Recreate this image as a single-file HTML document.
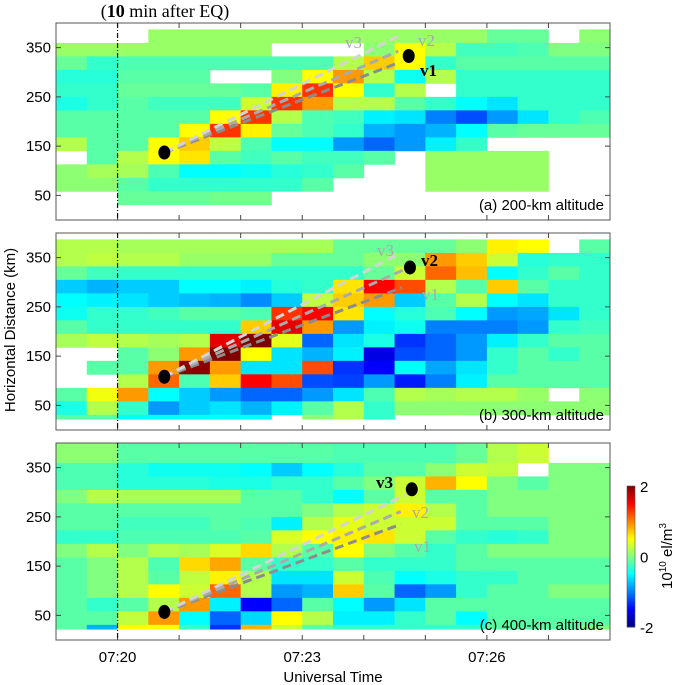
<!DOCTYPE html>
<html><head><meta charset="utf-8"><style>
body{margin:0;background:#fff;}
svg{display:block;font-family:"Liberation Sans",Arial,sans-serif;}
</style></head><body>
<svg id="chart" width="685" height="685" viewBox="0 0 685 685">
<text x="165" y="17" text-anchor="middle" font-family="Liberation Serif,serif" font-size="18">(<tspan font-weight="bold">10</tspan> min after EQ)</text>
<text transform="translate(15,330) rotate(-90)" text-anchor="middle" font-size="15">Horizontal Distance (km)</text>
<text x="333" y="682" text-anchor="middle" font-size="15">Universal Time</text>
<g id="cbar"></g>
</svg>
<script>
const N=null;
const panelLabels=["(a) 200-km altitude","(b) 300-km altitude","(c) 400-km altitude"];
const timeTicks=[1,2,3,4,5,6,7,8];
const timeTickLabels={1:"07:20",4:"07:23",7:"07:26"};
const distTicks=[50,150,250,350];
const valuesA=[
[N,N,N,.1,.1,.1,.1,.1,.1,.1,.1,.1,.1,.1,-.1,-.1,N,.05],
[.1,.1,.1,.1,.1,.1,.1,N,N,N,.05,.5,.2,-.25,-.25,-.2,0,0],
[-.1,-.3,-.2,-.2,-.2,-.2,-.2,-.2,-.2,.2,.7,.5,-.3,-.15,-.15,-.15,-.15,-.15],
[-.35,-.35,-.15,-.15,-.15,N,N,0,.5,.9,.2,-.45,.2,-.3,-.3,-.3,-.3,-.3],
[-.3,-.3,-.1,-.1,-.1,-.1,-.15,.55,1.3,.5,-.3,.2,N,-.3,-.3,-.3,-.3,-.3],
[-.4,-.3,-.15,-.25,-.25,-.25,.3,1.3,.9,.2,.2,-.15,-.3,-.5,-.6,-.3,-.3,-.3],
[-.15,-.15,-.15,-.15,-.15,.5,1.3,.2,-.2,-.25,-.55,-.6,-1,-1.2,-.9,-.6,-.3,-.2],
[-.15,-.15,-.15,-.15,.5,1.3,.55,-.1,-.2,-.3,-.8,-.9,-.8,-.5,-.15,-.1,-.1,-.1],
[.2,-.15,-.15,.5,.7,.25,-.2,-.5,-.5,-.9,-1.1,-.9,-.55,-.3,N,N,N,N],
[N,-.15,.2,.5,.6,-.15,-.25,-.15,-.25,-.25,-.15,N,.1,.1,.1,.1,N,N],
[.05,.15,.15,-.2,-.5,-.5,-.45,-.35,-.3,-.15,N,N,.1,.1,.1,.1,N,N],
[.05,.05,-.15,-.3,-.3,-.3,-.3,-.3,-.15,N,N,N,.1,.1,.1,.1,N,N],
[N,N,-.1,-.1,-.1,-.05,-.05,N,N,N,N,N,N,N,N,N,N,N],
[N,N,N,N,N,N,N,N,N,N,N,N,N,N,N,N,N,N]];
const valuesB=[
[.2,.2,.15,.15,.15,.15,.15,.15,.15,-.1,-.1,-.1,-.1,.05,.55,.5,N,-.15],
[.2,.25,.2,.2,.1,.1,.1,-.1,-.1,-.1,.05,.05,.9,.7,.3,-.35,-.3,-.3],
[-.1,-.25,-.3,-.3,-.3,-.3,-.3,-.3,-.3,-.3,-.1,.3,1.1,.75,-.5,-.3,-.15,-.3],
[-.7,-.8,-.7,-.7,-.5,-.5,-.55,-.35,-.3,.6,1.5,1.2,.2,-.15,.7,-.15,-.3,-.3],
[-.5,-.55,-.6,-.7,-.75,-.8,-.95,-.7,.25,.7,.9,-.7,-.15,.2,-.5,-.6,-.3,-.3],
[-.45,-.3,-.3,-.25,-.15,-.15,-.2,1.3,1.5,.6,-.5,-.35,-.2,-.5,-.9,-.85,-.6,-.3],
[-.15,-.3,-.3,-.3,-.3,-.3,.7,1.6,.9,-.9,-.55,-.45,-1,-1,-1,-.9,-.3,-.25],
[.15,.25,.2,.15,.2,1.6,2,.4,-1.1,-.6,-.4,-1.3,-1.1,-.9,-.55,-.3,-.15,-.15],
[N,N,-.15,.05,.9,2,.5,-.6,-.8,-.55,-1.6,-1.2,-1.1,-.9,-.3,-.15,-.3,-.15],
[N,-.15,-.15,.9,1.95,.9,-.6,-.6,1.2,-1.3,-1.5,-.5,-.85,-.6,-.3,-.15,-.15,-.15],
[N,N,.2,1.1,-.2,.7,1.5,1.2,-1.2,-1.25,-.9,-1.4,-1,-.55,-.15,-.15,-.15,-.15],
[-.15,.45,.9,-.5,-.7,-.9,-1.1,-1.1,-.9,-.6,-.2,.2,.15,.2,.2,.1,N,.05],
[-.4,.2,-.3,-.9,-.7,-.6,-.8,-.55,-.15,.2,-.3,.05,.05,.05,.05,.05,.05,.05],
[-.15,-.15,-.5,-.5,-.5,-.5,-.5,N,.05,.2,-.3,N,N,N,N,N,N,N]];
const valuesC=[
[.05,.05,-.15,-.15,-.15,-.15,-.15,-.15,-.15,-.2,-.2,-.2,-.2,-.1,.2,.3,N,N],
[-.2,-.2,-.35,-.45,-.45,-.45,-.5,-.7,-.5,-.35,-.15,-.15,.05,.3,.25,N,0,0],
[-.2,-.2,-.35,-.35,-.35,-.4,-.4,-.3,-.3,-.15,0,.3,.8,.5,0,-.15,0,0],
[0,.2,.15,.15,.15,.15,-.15,-.15,-.3,-.5,-.15,.3,-.15,-.15,0,0,0,0],
[-.15,-.15,-.15,-.15,-.15,-.15,-.15,-.15,0,.2,.3,.55,.2,-.15,0,0,0,0],
[-.15,-.15,-.25,-.25,-.25,-.15,-.2,-.55,.2,.4,.3,.3,.3,-.15,-.15,-.15,0,0],
[-.3,-.3,-.2,-.2,-.2,-.2,-.15,.35,.5,.55,.6,.3,-.15,-.3,-.35,-.3,0,0],
[0,.2,0,.2,.15,.35,.65,.2,-.15,.5,0,-.15,-.3,-.15,0,0,0,0],
[-.15,0,.2,-.2,.65,.85,-.15,-.3,-.3,-.15,-.3,-.3,-.3,-.15,-.15,-.15,-.15,-.15],
[-.15,0,.2,-.15,.25,.55,.2,-.6,-.6,.3,-.2,-.5,-.4,-.3,-.3,-.15,-.15,-.15],
[-.15,0,.2,.5,.3,1.1,.2,-.9,-.8,.7,-.15,-1.1,-.9,-.3,-.15,-.15,0,0],
[-.15,-.3,-.15,.2,.9,-.55,-1.5,-1.1,-.15,-.5,-.9,-.6,-.15,-.15,-.15,-.15,-.15,-.15],
[-.15,-.15,.25,.9,-.5,-1.1,-.65,.5,.2,-.55,-.55,-.3,-.15,-.5,-.15,-.15,-.15,-.15],
[-.15,-.8,.5,.5,-.3,-1.3,.8,.3,-.15,-.3,-.3,-.3,-.3,-.3,-.15,-.15,-.15,0]];
const startTimes=[1.76,1.76,1.76];
const startDist=[137,108,57];
const endTimes=[5.73,5.75,5.78];
const endDist=[333,330,306];
const lineEndTimes=[[5.56,5.56,5.56],[5.62,5.68,5.56],[5.6,5.6,5.68]];
const lineEndDist=[[319,343,373],[289,327,357],[235,261,295]];
const allValues=[valuesA,valuesB,valuesC];

const svg=document.getElementById('chart');
const NS='http://www.w3.org/2000/svg';
const X0=56,X1=610,TMAX=9,H=197,TOPS=[23,233,443];
function xs(t){return X0+t*(X1-X0)/TMAX;}
function ys(p,km){return TOPS[p]+(400-km)*H/400;}
function clamp(v){return Math.max(0,Math.min(1,v));}
function jet(v){const t=(v+2)/4;const r=clamp(1.5-Math.abs(4*t-3)),g=clamp(1.5-Math.abs(4*t-2)),b=clamp(1.5-Math.abs(4*t-1));return `rgb(${Math.round(r*255)},${Math.round(g*255)},${Math.round(b*255)})`;}
function mk(tag,attrs,parent){const e=document.createElementNS(NS,tag);for(const k in attrs)e.setAttribute(k,attrs[k]);(parent||svg).appendChild(e);return e;}
const rowLo=r=>r===0?22:3.4+27.4*r;
const rowHi=(r,p)=>(p===2&&r===13)?400:Math.min(400,3.4+27.4*(r+1));
const greys=['#8c8c8c','#aaaaaa','#d4d4d4'];
const vnames=['v1','v2','v3'];
for(let p=0;p<3;p++){
  const g=mk('g',{});
  
  
  const vals=allValues[p];
  for(let ri=0;ri<vals.length;ri++){
    const r=13-ri;
    for(let c=0;c<vals[ri].length;c++){
      const v=vals[ri][c]; if(v===null)continue;
      const x0=xs(c*0.5),x1=xs((c+1)*0.5);
      const y0=ys(p,rowHi(r,p)),y1=ys(p,rowLo(r));
      const cell=mk('rect',{x:x0,y:y0,width:x1-x0+0.4,height:y1-y0+0.4,fill:jet(v)},g);
      
      
    }
  }
  const fr=mk('rect',{x:X0,y:TOPS[p],width:X1-X0,height:H,fill:'none',stroke:'#555','stroke-width':1},g);
  
  
  timeTicks.forEach(t=>{
    mk('line',{x1:xs(t),x2:xs(t),y1:TOPS[p],y2:TOPS[p]+5,stroke:'#444'},g);
    mk('line',{x1:xs(t),x2:xs(t),y1:TOPS[p]+H,y2:TOPS[p]+H-5,stroke:'#444'},g);
  });
  distTicks.forEach(d=>{
    const y=ys(p,d);
    mk('line',{x1:X0,x2:X0+5,y1:y,y2:y,stroke:'#444'},g);
    mk('line',{x1:X1,x2:X1-5,y1:y,y2:y,stroke:'#444'},g);
    const tl=mk('text',{x:X0-5,y:y+5,'text-anchor':'end','font-size':15},g);
    tl.textContent=d;
    
    
  });
  const eq=mk('line',{x1:xs(1),x2:xs(1),y1:TOPS[p],y2:TOPS[p]+H,stroke:'#111','stroke-width':1.2,'stroke-dasharray':'5,2,1,2'},g);
  
  
  for(let k=0;k<3;k++){
    const ln=mk('line',{x1:xs(startTimes[p]),y1:ys(p,startDist[p]),x2:xs(lineEndTimes[p][k]),y2:ys(p,lineEndDist[p][k]),stroke:greys[k],'stroke-width':3,'stroke-dasharray':'9,5'},g);
    
    
  }
  const d1=mk('ellipse',{cx:xs(startTimes[p]),cy:ys(p,startDist[p]),rx:6,ry:7,fill:'#000'},g);
  
  
  const d2=mk('ellipse',{cx:xs(endTimes[p]),cy:ys(p,endDist[p]),rx:6,ry:7,fill:'#000'},g);
  
  
  const pl=mk('text',{x:604,y:TOPS[p]+H-10,'text-anchor':'end','font-size':15},g);
  pl.textContent=panelLabels[p];
  
  
}
const vlab=[
 [['v3',345,48,'#aaa',false],['v2',418,46,'#aaa',false],['v1',420,76,'#000',true]],
 [['v3',377,256,'#aaa',false],['v2',421,266,'#000',true],['v1',422,300,'#aaa',false]],
 [['v3',376,488,'#000',true],['v2',412,518,'#aaa',false],['v1',414,552,'#aaa',false]]];
vlab.forEach(pp=>pp.forEach(a=>{
  const t=mk('text',{x:a[1],y:a[2],'font-family':'Liberation Serif,serif','font-size':17,fill:a[3],'font-weight':a[4]?'bold':'normal'});
  t.textContent=a[0];
  
  
}));
for(const t in timeTickLabels){
  const tl=mk('text',{x:xs(+t),y:662,'text-anchor':'middle','font-size':15});
  tl.textContent=timeTickLabels[t];
  
  
}
const cb=document.getElementById('cbar');
const CB0=486,CB1=627,CBX=627,CBW=8;
for(let i=0;i<70;i++){
  const v=2-4*(i+0.5)/70;
  mk('rect',{x:CBX,y:CB0+i*(CB1-CB0)/70,width:CBW,height:(CB1-CB0)/70+0.5,fill:jet(v)},cb);
}
mk('rect',{x:CBX,y:CB0,width:CBW,height:CB1-CB0,fill:'none',stroke:'#555','stroke-width':0.6},cb);
[[2,'2'],[0,'0'],[-2,'-2']].forEach(a=>{
  const y=CB0+(2-a[0])/4*(CB1-CB0);
  const t=mk('text',{x:CBX+13,y:y+6,'font-size':15},cb);
  t.textContent=a[1];
  
  
});
const cl=mk('text',{transform:'translate(672,556) rotate(-90)','text-anchor':'middle','font-size':15},cb);
cl.innerHTML='10<tspan font-size="10" dy="-6">10</tspan><tspan dy="6"> el/m</tspan><tspan font-size="10" dy="-6">3</tspan>';


</script>
</body></html>
